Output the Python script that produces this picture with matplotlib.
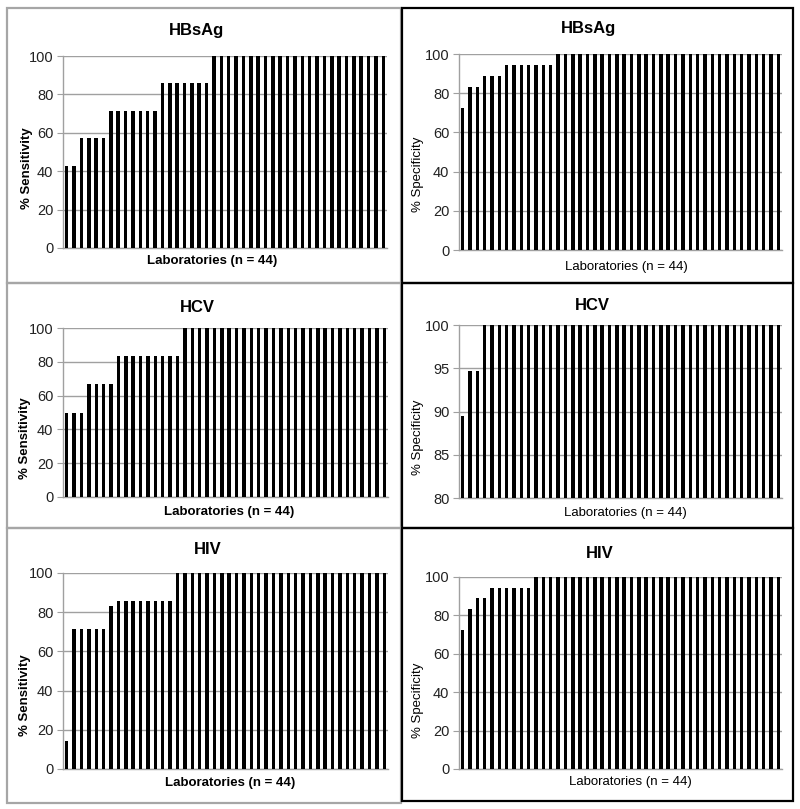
import matplotlib
matplotlib.use("Agg")
import matplotlib.pyplot as plt
from matplotlib.patches import Rectangle

plt.rcParams["font.family"] = ["Liberation Sans", "DejaVu Sans"]

n_labs = 44

hbsag_sens = [42.9] * 2 + [57.1] * 4 + [71.4] * 7 + [85.7] * 7 + [100] * 24
hbsag_spec = [72.2] * 1 + [83.3] * 2 + [88.9] * 3 + [94.4] * 7 + [100] * 31
hcv_sens = [50.0] * 3 + [66.7] * 4 + [83.3] * 9 + [100] * 28
hcv_spec = [89.5] * 1 + [94.7] * 2 + [100] * 41
hiv_sens = [14.3] * 1 + [71.4] * 5 + [83.3] * 1 + [85.7] * 8 + [100] * 29
hiv_spec = [72.2] * 1 + [83.3] * 1 + [88.9] * 2 + [94.4] * 6 + [100] * 34

titles = ["HBsAg", "HBsAg", "HCV", "HCV", "HIV", "HIV"]
ylabels = ["% Sensitivity", "% Specificity"] * 3
xlabel = "Laboratories (n = 44)"

W, H = 800, 809
fig = plt.figure(figsize=(W / 100, H / 100), dpi=100)


def fx(x):
    return x / W


def fy(y):
    return 1 - y / H


# panel frames: (x0, y0, x1, y1, colour)
frames = [
    (7, 8, 401, 283, "#a6a6a6"), (402, 8, 793, 283, "black"),
    (7, 283, 401, 528, "#a6a6a6"), (402, 283, 793, 528, "black"),
    (7, 528, 401, 803, "#a6a6a6"), (402, 528, 793, 801, "black"),
]
for x0, y0, x1, y1, c in frames:
    fig.patches.append(Rectangle((fx(x0), fy(y1)), fx(x1) - fx(x0), fy(y0) - fy(y1),
                                 transform=fig.transFigure, fill=False,
                                 edgecolor=c, linewidth=1.6))

# axes boxes in pixels: left, right, top, bottom
boxes = [(63, 387, 56, 248), (459, 782, 54, 250),
         (63, 388, 328, 497), (459, 782, 325, 498),
         (63, 388, 573, 769), (459, 782, 577, 769)]
title_pos = [(197, 31), (589, 28), (197, 307), (592, 305), (208, 550), (600, 553)]
xlab_pos = [(212, 261), (626, 267), (229, 512), (625, 513), (230, 783), (630, 782)]
ylab_pos = [(27, 168), (418, 174), (25, 438), (418, 437), (25, 695), (418, 700)]
data = [hbsag_sens, hbsag_spec, hcv_sens, hcv_spec, hiv_sens, hiv_spec]

for i, vals in enumerate(data):
    l, r, t, b = boxes[i]
    ax = fig.add_axes([fx(l), fy(b), fx(r) - fx(l), fy(t) - fy(b)])
    ax.bar(range(n_labs), vals, width=0.47, color="black", zorder=3)
    ax.set_xlim(-0.5, n_labs - 0.5)
    if i == 3:
        ax.set_ylim(80, 100)
        ax.set_yticks([80, 85, 90, 95, 100])
    else:
        ax.set_ylim(0, 100)
        ax.set_yticks(range(0, 101, 20))
    ax.set_xticks([])
    ax.grid(axis="y", color="#a0a0a0", linewidth=1, zorder=0)
    for s in ["top", "right"]:
        ax.spines[s].set_visible(False)
    for s in ["left", "bottom"]:
        ax.spines[s].set_color("#a0a0a0")
        ax.spines[s].set_linewidth(1)
    ax.tick_params(axis="y", labelsize=10.5, colors="#a0a0a0", labelcolor="#222222",
                   length=4, pad=3)
    bold = "bold" if i % 2 == 0 else "normal"
    fig.text(fx(title_pos[i][0]), fy(title_pos[i][1]), titles[i], ha="center",
             va="center", fontsize=12, fontweight="bold")
    fig.text(fx(xlab_pos[i][0]), fy(xlab_pos[i][1]), xlabel, ha="center",
             va="center", fontsize=9.5, fontweight=bold)
    fig.text(fx(ylab_pos[i][0]), fy(ylab_pos[i][1]), ylabels[i], ha="center",
             va="center", rotation=90, fontsize=9.5, fontweight=bold)

fig.savefig("out.png", dpi=100, facecolor="white")
